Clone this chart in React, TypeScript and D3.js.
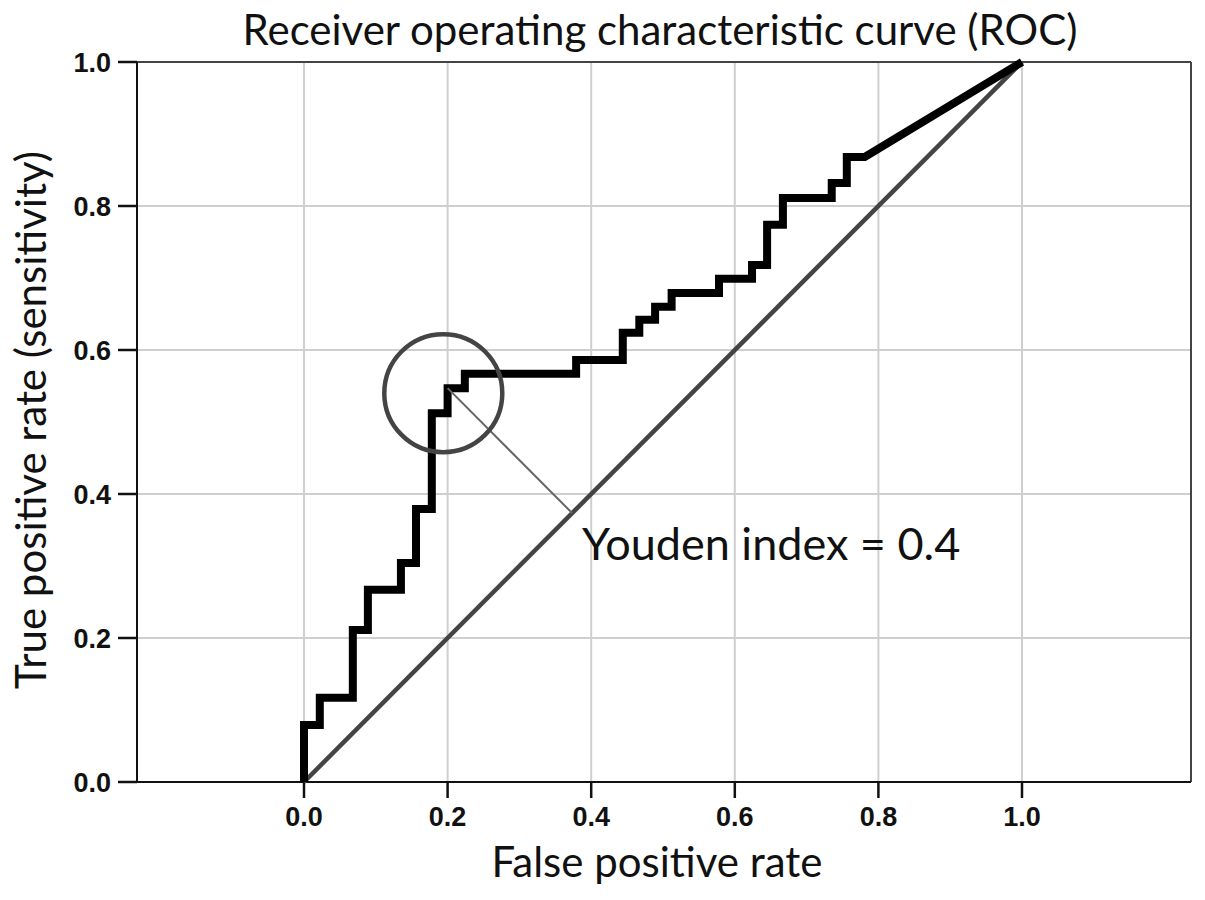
import * as d3 from "d3";

// ROC curve corner points (false positive rate / true positive rate)
const fpr = [
  0, 0, 0.022, 0.022, 0.068, 0.068, 0.089, 0.089, 0.135, 0.135, 0.156, 0.156,
  0.178, 0.178, 0.2, 0.2, 0.224, 0.224, 0.379, 0.379, 0.444, 0.444, 0.467,
  0.467, 0.489, 0.489, 0.512, 0.512, 0.578, 0.578, 0.624, 0.624, 0.645, 0.645,
  0.667, 0.667, 0.735, 0.735, 0.756, 0.756, 0.781, 1,
];
const tpr = [
  0, 0.079, 0.079, 0.117, 0.117, 0.211, 0.211, 0.267, 0.267, 0.304, 0.304,
  0.379, 0.379, 0.512, 0.512, 0.547, 0.547, 0.567, 0.567, 0.586, 0.586, 0.624,
  0.624, 0.642, 0.642, 0.66, 0.66, 0.679, 0.679, 0.699, 0.699, 0.718, 0.718,
  0.774, 0.774, 0.811, 0.811, 0.832, 0.832, 0.868, 0.868, 1,
];

const xTicks = [0, 0.2, 0.4, 0.6, 0.8, 1.0];
const yTicks = [0, 0.2, 0.4, 0.6, 0.8, 1.0];

// optimal cut-off (Youden) and its highlight circle
const cutoff = { fpr: 0.2, tpr: 0.547 };
const circleCenter = { fpr: 0.194, tpr: 0.54 };
const youdenLabel = "Youden index = 0.4";

const W = 1205;
const H = 900;
const plot = { left: 137, right: 1191, top: 62, bottom: 782 };

const titleFont = "Lato, 'Open Sans', sans-serif";
const tickFont = "'Liberation Sans', Arial, sans-serif";

export default function App() {
  const x = d3.scaleLinear().domain([0, 1]).range([304, 1022]);
  const y = d3.scaleLinear().domain([0, 1]).range([plot.bottom, plot.top]);

  const pts: [number, number][] = fpr.map((f, i) => [f, tpr[i]]);
  const line = d3
    .line<[number, number]>()
    .x((d) => x(d[0]))
    .y((d) => y(d[1]));

  const foot = (cutoff.fpr + cutoff.tpr) / 2;

  return (
    <svg
      width={W}
      height={H}
      style={{ position: "absolute", left: 0, top: 0, background: "#fff" }}
    >
      {/* grid */}
      <g stroke="#cfcfcf" strokeWidth={2}>
        {xTicks.map((t) => (
          <line key={"gx" + t} x1={x(t)} x2={x(t)} y1={plot.top} y2={plot.bottom} />
        ))}
        {yTicks.slice(1, -1).map((t) => (
          <line key={"gy" + t} x1={plot.left} x2={plot.right} y1={y(t)} y2={y(t)} />
        ))}
      </g>

      {/* frame */}
      <line x1={plot.left} x2={plot.right} y1={plot.top} y2={plot.top} stroke="#444" strokeWidth={2} />
      <line x1={plot.right} x2={plot.right} y1={plot.top} y2={plot.bottom} stroke="#444" strokeWidth={2} />
      <line x1={plot.left} x2={plot.left} y1={plot.top} y2={plot.bottom} stroke="#111" strokeWidth={2} />
      <line x1={plot.left} x2={plot.right} y1={plot.bottom} y2={plot.bottom} stroke="#111" strokeWidth={2} />

      {/* ticks */}
      <g stroke="#111" strokeWidth={2.5}>
        {yTicks.map((t) => (
          <line key={"ty" + t} x1={plot.left - 19} x2={plot.left} y1={y(t)} y2={y(t)} />
        ))}
        {xTicks.map((t) => (
          <line key={"tx" + t} x1={x(t)} x2={x(t)} y1={plot.bottom} y2={plot.bottom + 16} />
        ))}
      </g>
      <g fontFamily={tickFont} fontWeight="bold" fontSize={27} fill="#111">
        {yTicks.map((t) => (
          <text key={"ly" + t} x={111} y={y(t)} dy="0.36em" textAnchor="end">
            {t.toFixed(1)}
          </text>
        ))}
        {xTicks.map((t) => (
          <text key={"lx" + t} x={x(t)} y={826} textAnchor="middle">
            {t.toFixed(1)}
          </text>
        ))}
      </g>

      {/* reference diagonal */}
      <line x1={x(0)} y1={y(0)} x2={x(1)} y2={y(1)} stroke="#444" strokeWidth={4.5} />

      {/* ROC curve */}
      <path
        d={line(pts) ?? ""}
        fill="none"
        stroke="#000"
        strokeWidth={8}
        strokeLinejoin="miter"
      />

      {/* Youden marker */}
      <line
        x1={x(cutoff.fpr)}
        y1={y(cutoff.tpr)}
        x2={x(foot)}
        y2={y(foot)}
        stroke="#666"
        strokeWidth={2}
      />
      <circle
        cx={x(circleCenter.fpr)}
        cy={y(circleCenter.tpr)}
        r={59}
        fill="none"
        stroke="#444"
        strokeWidth={4.5}
      />
      <text x={582} y={560} fontFamily={titleFont} fontSize={45} fill="#111">
        {youdenLabel}
      </text>

      {/* titles */}
      <text x={660} y={45} textAnchor="middle" fontFamily={titleFont} fontSize={42} fill="#111">
        Receiver operating characteristic curve (ROC)
      </text>
      <text x={657} y={877} textAnchor="middle" fontFamily={titleFont} fontSize={42} fill="#111">
        False positive rate
      </text>
      <text
        transform={`translate(46, 420) rotate(-90)`}
        textAnchor="middle"
        fontFamily={titleFont}
        fontSize={42}
        fill="#111"
      >
        True positive rate (sensitivity)
      </text>
    </svg>
  );
}
